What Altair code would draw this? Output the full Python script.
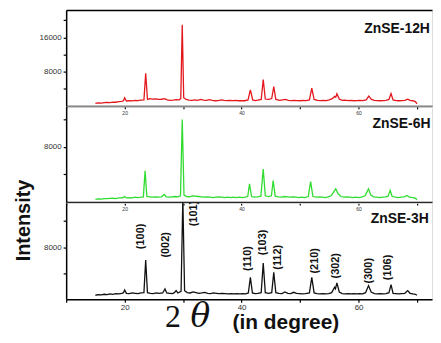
import altair as alt
import pandas as pd

# ---------------- data ----------------
theta_12h = [15.0, 15.5, 16.0, 16.5, 17.0, 17.5, 18.0, 18.5, 19.0, 19.5, 19.8, 20.0, 20.3, 20.8, 21.3, 21.8,
             22.3, 22.8, 23.3, 23.6, 23.9, 24.3, 24.8, 25.3, 25.8, 26.3, 26.8, 27.3, 27.8, 28.3, 28.8, 29.3,
             29.6, 29.85, 30.1, 30.5, 31.0, 31.5, 32.0, 32.5, 33.0, 33.5, 34.0, 34.5, 35.0, 35.5, 36.0, 36.5,
             37.0, 37.5, 38.0, 38.5, 39.0, 39.5, 40.0, 40.5, 41.1, 41.5, 41.9, 42.3, 42.8, 43.35, 43.7, 44.05,
             44.6, 45.15, 45.5, 45.85, 46.5, 47.0, 47.5, 48.0, 48.5, 49.0, 49.5, 50.0, 50.5, 51.0, 51.6, 52.0,
             52.4, 53.0, 53.5, 54.0, 54.5, 55.0, 55.5, 55.9, 56.1, 56.3, 56.7, 57.2, 57.7, 58.2, 58.7, 59.2,
             59.7, 60.2, 60.7, 61.3, 61.75, 62.2, 62.7, 63.2, 63.7, 64.2, 64.7, 65.2, 65.55, 65.9, 66.4, 66.9,
             67.4, 67.9, 68.4, 68.8, 69.3, 69.7, 70.0]
int_12h = [600, 700, 650, 750, 800, 750, 900, 850, 1000, 1050, 1200, 1900, 1150, 1200, 1150, 1300,
           1250, 1350, 1400, 7600, 1500, 1700, 1600, 1650, 1500, 1550, 1700, 1400, 1300, 1350, 1450, 1400,
           1700, 18900, 1900, 1500, 1350, 1300, 1400, 1300, 1500, 1350, 1300, 1450, 1300, 1200, 1250, 1400,
           1300, 1250, 1300, 1250, 1300, 1200, 1250, 1200, 1400, 3760, 1400, 1250, 1350, 1500, 6150, 1600,
           1500, 1700, 4520, 1500, 1300, 1400, 1500, 1300, 1250, 1300, 1250, 1200, 1300, 1250, 1400, 4130,
           1500, 1300, 1250, 1300, 1250, 1400, 1700, 2200, 2000, 2830, 1600, 1300, 1350, 1250, 1300, 1200,
           1250, 1300, 1250, 1400, 2270, 1500, 1300, 1250, 1200, 1250, 1300, 1500, 2900, 1400, 1250, 1200,
           1250, 1300, 1580, 1300, 1200, 1000, 500]

theta_6h = [15.0, 15.5, 16.0, 16.5, 17.0, 17.5, 18.0, 18.5, 19.0, 19.5, 19.8, 20.0, 20.3, 20.8, 21.3, 21.8,
            22.3, 22.8, 23.2, 23.5, 23.8, 24.3, 24.8, 25.3, 25.8, 26.3, 26.8, 27.1, 27.6, 28.1, 28.6, 29.1,
            29.55, 29.85, 30.15, 30.6, 31.1, 31.6, 32.1, 32.6, 33.1, 33.6, 34.1, 34.6, 35.1, 35.6, 36.1, 36.6,
            37.1, 37.6, 38.1, 38.6, 39.1, 39.6, 40.1, 40.6, 41.05, 41.35, 41.7, 42.2, 42.7, 43.3, 43.7, 44.05,
            44.6, 45.1, 45.4, 45.75, 46.3, 46.8, 47.3, 47.8, 48.3, 48.8, 49.3, 49.8, 50.3, 50.8, 51.4, 51.8,
            52.2, 52.8, 53.3, 53.8, 54.3, 54.8, 55.3, 55.7, 56.1, 56.5, 57.0, 57.5, 58.0, 58.5, 59.0, 59.5,
            60.0, 60.5, 61.1, 61.4, 61.7, 62.1, 62.6, 63.1, 63.6, 64.1, 64.6, 65.05, 65.4, 65.75, 66.3, 66.8,
            67.3, 67.8, 68.3, 68.7, 69.2, 69.6, 70.0]
int_6h = [400, 450, 420, 500, 480, 520, 550, 500, 600, 620, 650, 800, 600, 650, 600, 700,
          650, 700, 750, 4550, 800, 750, 700, 750, 700, 750, 1100, 750, 700, 750, 800, 750,
          900, 11980, 1000, 800, 750, 900, 850, 800, 750, 700, 750, 700, 650, 700, 750, 700,
          650, 700, 650, 700, 650, 700, 650, 700, 800, 2640, 800, 700, 750, 850, 4800, 900,
          800, 900, 3120, 850, 750, 700, 800, 750, 700, 750, 700, 650, 700, 650, 800, 2970,
          800, 700, 750, 700, 650, 750, 900, 1400, 1920, 1200, 800, 700, 750, 700, 650, 700,
          650, 700, 900, 1400, 1920, 1000, 750, 700, 650, 700, 750, 850, 1680, 800, 700, 650,
          700, 750, 960, 700, 650, 600, 350]

theta_3h = [15.0, 15.5, 16.0, 16.5, 17.0, 17.5, 18.0, 18.5, 19.0, 19.5, 19.8, 20.0, 20.3, 20.8, 21.3, 21.8,
            22.3, 22.8, 23.3, 23.6, 23.9, 24.4, 24.9, 25.4, 25.9, 26.5, 26.9, 27.2, 27.7, 28.2, 28.5, 28.8,
            29.1, 29.65, 29.95, 30.25, 30.7, 31.2, 31.7, 32.2, 32.7, 33.2, 33.7, 34.2, 34.7, 35.2, 35.7, 36.2,
            36.7, 37.2, 37.7, 38.2, 38.7, 39.2, 39.7, 40.2, 40.7, 41.15, 41.5, 41.85, 42.3, 42.8, 43.35, 43.7,
            44.05, 44.6, 45.15, 45.5, 45.85, 46.4, 46.9, 47.4, 47.9, 48.4, 48.9, 49.4, 49.9, 50.4, 50.9, 51.6,
            52.0, 52.4, 52.9, 53.4, 53.9, 54.4, 54.9, 55.4, 55.9, 56.05, 56.3, 56.7, 57.2, 57.7, 58.2, 58.7,
            59.2, 59.7, 60.2, 60.7, 61.2, 61.7, 62.15, 62.7, 63.2, 63.7, 64.2, 64.7, 65.2, 65.55, 65.9, 66.4,
            66.9, 67.4, 67.9, 68.4, 68.8, 69.3, 69.7, 70.0]
int_3h = [600, 700, 650, 750, 700, 800, 750, 850, 800, 900, 1000, 1420, 900, 850, 950, 900,
          850, 950, 1000, 6000, 1000, 900, 850, 950, 900, 950, 1570, 950, 900, 850, 1000, 1310,
          950, 1200, 15500, 1300, 1000, 950, 1100, 1000, 900, 950, 1050, 900, 850, 950, 900, 850,
          900, 850, 800, 850, 800, 850, 800, 850, 800, 950, 3340, 950, 850, 900, 1000, 5540,
          1000, 900, 1000, 4110, 1000, 900, 850, 1100, 900, 850, 1050, 900, 850, 800, 850, 950,
          3340, 950, 850, 800, 850, 800, 850, 1000, 1820, 1600, 2490, 1100, 850, 800, 850, 800,
          850, 800, 850, 800, 1000, 2080, 1100, 850, 800, 850, 800, 850, 1000, 2230, 900, 850,
          800, 850, 900, 1310, 900, 800, 750, 600]

peak_labels = ["(100)", "(002)", "(101)", "(110)", "(103)", "(112)", "(210)", "(302)", "(300)", "(106)"]
peak_label_theta = [22.75, 27.1, 31.8, 41.17, 43.72, 46.17, 52.5, 56.2, 61.87, 65.0]
peak_label_int = [9640, 8340, 13150, 6245, 8720, 6430, 5890, 5130, 4370, 4870]

sample_names = ["ZnSE-12H", "ZnSE-6H", "ZnSE-3H"]
sample_name_theta = [72.2, 72.3, 72.0]
sample_name_int = [18040, 11260, 12350]

x_ticks = [10, 20, 30, 40, 50, 60, 70]

# ---------------- layout ----------------
W = 368
XDOM = [10, 10 + W / 5.8825]
FONT = "Liberation Sans"
DOM = dict(domain=True, domainColor="black", domainWidth=1.5)


def xaxis(label_size, pad, title=None, **kw):
    return alt.Axis(orient="bottom", values=x_ticks,
                    labelExpr="indexof([20, 40, 60], datum.value) >= 0 ? datum.label : ''",
                    tickSize=3, tickWidth=1.2, tickColor="black", grid=False,
                    labelFontSize=label_size, labelPadding=pad, labelColor="#333", labelFont=FONT,
                    labelOverlap=False, labelFlush=False, title=title, **DOM, **kw)


def yaxis(vals, title=None, **kw):
    return alt.Axis(values=vals, labelExpr="datum.value % 8000 === 0 ? datum.label : ''", format="d",
                    tickSize=3, tickWidth=1.2, tickColor="black", grid=False,
                    labelFontSize=8, labelColor="#333", labelPadding=2, labelFont=FONT,
                    labelOverlap=False, title=title, **DOM, **kw)


def panel(theta, inten, color, ydom, yax, name_idx, height, xax, top_axis=False, extra=None):
    df = pd.DataFrame({"theta": theta, "intensity": inten})
    xs = alt.Scale(domain=XDOM, nice=False, zero=False)
    ys = alt.Scale(domain=ydom, nice=False, zero=False)
    line = alt.Chart(df).mark_line(color=color, strokeWidth=1.3, clip=True).encode(
        x=alt.X("theta:Q", scale=xs, axis=xax),
        y=alt.Y("intensity:Q", scale=ys, axis=yax),
    )
    ndf = pd.DataFrame({"theta": [sample_name_theta[name_idx]],
                        "intensity": [sample_name_int[name_idx]],
                        "name": [sample_names[name_idx]]})
    name_axis = xax
    if top_axis:
        name_axis = alt.Axis(orient="top", values=x_ticks, labels=False, ticks=False, grid=False,
                             title=None, **DOM)
    name = alt.Chart(ndf).mark_text(font=FONT, fontSize=14, fontWeight="bold", align="right",
                                    baseline="middle", color="#111").encode(
        x=alt.X("theta:Q", scale=xs, axis=name_axis),
        y=alt.Y("intensity:Q", scale=ys, axis=yax),
        text="name:N",
    )
    layers = [line, name]
    if extra is not None:
        layers += extra(xs, ys, xax, yax)
    ch = alt.layer(*layers).properties(width=W, height=height)
    if top_axis:
        ch = ch.resolve_axis(x="independent")
    return ch


def bottom_extra(xs, ys, xax, yax):
    ldf = pd.DataFrame({"theta": peak_label_theta, "intensity": peak_label_int, "lab": peak_labels})
    labels = alt.Chart(ldf).mark_text(font=FONT, fontSize=11, fontWeight="bold", angle=270,
                                      align="center", baseline="middle", color="#111", clip=True).encode(
        x=alt.X("theta:Q", scale=xs, axis=xax),
        y=alt.Y("intensity:Q", scale=ys, axis=yax),
        text="lab:N",
    )
    two = alt.Chart(pd.DataFrame({"t": ["2"]})).mark_text(
        font="Liberation Serif", fontSize=32, align="center", baseline="alphabetic", color="#111"
    ).encode(x=alt.value(107.5), y=alt.value(125.3), text="t:N")
    th = alt.Chart(pd.DataFrame({"t": ["θ"]})).mark_text(
        font="DejaVu Serif", fontSize=33, fontStyle="italic", align="center", baseline="alphabetic",
        color="#111"
    ).encode(x=alt.value(135), y=alt.value(125.3), text="t:N")
    return [labels, two, th]


top = panel(theta_12h, int_12h, "#e3171c", [0, 22380], yaxis([4000, 8000, 12000, 16000, 20000]), 0, 96.5,
            xaxis(5, 2), top_axis=True)
mid = panel(theta_6h, int_6h, "#2fdc2f", [0, 13890], yaxis([4000, 8000, 12000]), 1, 96.2,
            xaxis(5, 2))
bot = panel(theta_3h, int_3h, "#111111", [0, 14800],
            yaxis([4000, 8000, 12000], title="Intensity", titleFont=FONT, titleFontSize=20,
                  titleFontWeight="bold", titleColor="#111", titleX=-42.5, titleY=17.3,
                  titleBaseline="middle", titleAlign="center", titleAngle=270, titleAnchor="start"),
            2, 96.9,
            xaxis(8, 1, title="(in degree)", titleFont=FONT, titleFontSize=21, titleFontWeight="bold",
                  titleColor="#111", titleX=220.5, titleY=24, titleBaseline="middle", titleAlign="center",
                  titleAnchor="start"),
            extra=bottom_extra)

chart = alt.vconcat(top, mid, bot, spacing=0, bounds="flush").properties(
    padding={"left": 4.5, "top": 0, "right": 0, "bottom": 0}
).configure_view(stroke=None).configure(background="white")

chart.save("out.html", embed_options={"renderer": "svg", "actions": False})
